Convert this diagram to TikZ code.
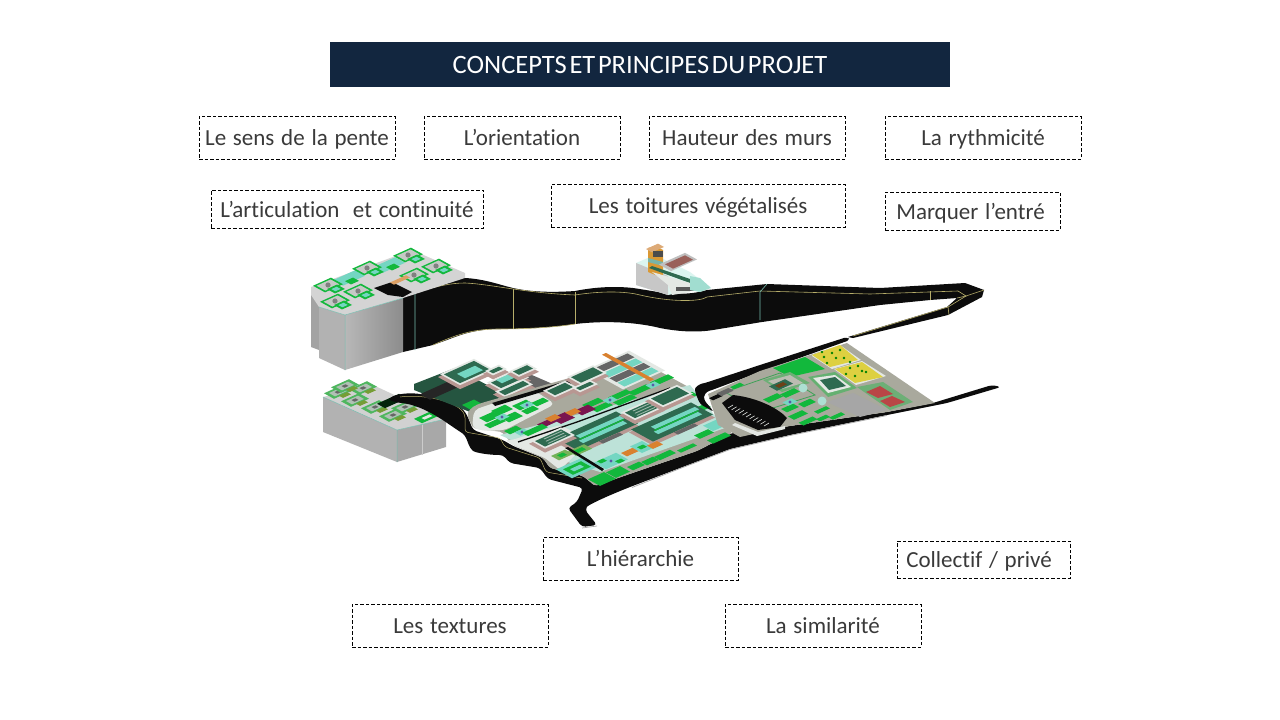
\documentclass[tikz,border=0pt]{standalone}
\usepackage{fontspec}
\setmainfont[WordSpace=1.3,Ligatures=NoCommon]{Carlito}
\newfontfamily\titlefont[WordSpace=0.45,Ligatures=NoCommon]{Carlito}
\definecolor{navy}{HTML}{12263F}
\definecolor{ink}{HTML}{3A3A3A}
\definecolor{rib}{HTML}{0C0C0C}
\definecolor{gra}{HTML}{12B83C}
\definecolor{dgr}{HTML}{2E6A50}
\definecolor{tea}{HTML}{74D6C2}
\definecolor{pnk}{HTML}{D8B2AC}
\definecolor{lgy}{HTML}{E4E8E4}
\definecolor{sgy}{HTML}{A9A99D}
\definecolor{mar}{HTML}{7A1550}
\definecolor{org}{HTML}{D9812F}
\definecolor{yel}{HTML}{DDD040}
\definecolor{lin}{HTML}{B7AE6A}
\tikzset{
  label box/.style={draw=black,dash pattern=on 3.5pt off 2pt,line width=.7pt,text=ink,inner sep=0pt,text height=18pt,text depth=2pt,font=\fontsize{23}{26}\selectfont},
  title box/.style={fill=navy,text=white,inner sep=0pt,minimum width=620pt,minimum height=45pt,text height=19pt,text depth=2pt,font=\titlefont\fontsize{26.5}{28}\selectfont},
  seam/.style={draw=lin,line width=.6pt},
  cyanseam/.style={draw=tea!70!gray,line width=.6pt}
}
\newcommand{\iso}[5]{\fill[#5] ({#1-(#3)-(#4)},{#2+.45*(#3)-.55*(#4)}) -- ({#1+(#3)-(#4)},{#2-.45*(#3)-.55*(#4)}) -- ({#1+(#3)+(#4)},{#2-.45*(#3)+.55*(#4)}) -- ({#1-(#3)+(#4)},{#2+.45*(#3)+.55*(#4)}) -- cycle;}
\newcommand{\bld}[4]{\iso{#1}{#2+3}{#3+1}{#4+1}{pnk!85!black}\iso{#1}{#2}{#3}{#4}{lgy}\iso{#1}{#2}{#3-2}{#4-2}{dgr}}
\newcommand{\pod}[2]{\iso{#1}{#2}{9}{6}{gra}\iso{#1}{#2}{7}{4.4}{lgy!70!gray}\fill[black!50] (#1,#2) circle (2.6);\iso{#1+8}{#2+4}{5}{4}{gra}\iso{#1+8}{#2+4}{2.6}{2}{tea}}
\newcommand{\pls}[2]{\iso{#1}{#2}{4.5}{3}{tea}\fill[gray!70!blue] (#1,#2) circle (1.6);}
\newcommand{\longb}[2]{\iso{#1}{#2+3}{31}{12}{pnk!85!black}\iso{#1}{#2}{30}{11}{dgr}\iso{#1+3}{#2-4}{22}{2.2}{tea}\iso{#1+6}{#2+1}{22}{2.2}{tea}\iso{#1+4.5}{#2-1.5}{22}{.7}{gra}\iso{#1+14}{#2+7}{10}{2}{black!60}}
\begin{document}
\begin{tikzpicture}[x=1pt,y=-1pt]
\useasboundingbox (0,0) rectangle (1280,720);
\fill[white] (0,0) rectangle (1280,720);
\node[title box] (title) at (640,64.5) {CONCEPTS ET PRINCIPES DU PROJET};
\node[label box,minimum width=196pt,minimum height=43pt] (a) at (297,137.5) {Le sens de la pente};
\node[label box,minimum width=196pt,minimum height=43pt] (b) at (522,137.5) {L’orientation};
\node[label box,minimum width=196pt,minimum height=43pt] (c) at (747,137.5) {Hauteur des murs};
\node[label box,minimum width=196pt,minimum height=43pt] (d) at (983,137.5) {La rythmicité};
\node[label box,minimum width=272pt,minimum height=38pt] (e) at (347,209) {L’articulation\ \ et continuité};
\node[label box,minimum width=294pt,minimum height=43pt] (f) at (698,205.5) {Les toitures végétalisés};
\node[label box,minimum width=175pt,minimum height=38pt] (g) at (972.5,211) {\hspace*{-4pt}Marquer l’entré};
\node[label box,minimum width=195pt,minimum height=43pt] (h) at (640.5,558.5) {L’hiérarchie};
\node[label box,minimum width=173pt,minimum height=37pt] (i) at (983.5,559.5) {\hspace*{-9pt}Collectif / privé};
\node[label box,minimum width=196pt,minimum height=43pt] (j) at (450,625.5) {Les textures};
\node[label box,minimum width=196pt,minimum height=43pt] (k) at (823,625.5) {La similarité};

%%% ribbon
\fill[rib] (403,297) .. controls (430,290) and (445,278) .. (465,278) .. controls (485,279) and (500,285) .. (513,288) .. controls (535,293) and (560,292) .. (575,291) .. controls (595,287) and (615,286) .. (633,288) .. controls (655,291) and (680,298) .. (707,290) -- (767,284) -- (880,288) -- (965,283) -- (984,290) -- (982,297) -- (948,315) -- (853,338) -- (848,337) -- (947,307) -- (957,298) -- (930,300) -- (880,305) -- (762,322) -- (713,330) .. controls (695,333) and (675,331) .. (660,328) .. controls (640,323) and (610,320) .. (575,324) .. controls (550,328) and (520,329) .. (500,329) .. controls (475,329) and (460,335) .. (447,340) -- (433,345) -- (403,352) -- cycle;
\draw[seam] (415,292) .. controls (440,286) and (450,283) .. (465,283) .. controls (490,284) and (525,293) .. (575,295) .. controls (600,291) and (625,291) .. (640,295) .. controls (670,302) and (700,302) .. (707,297) -- (760,291) -- (870,294) -- (958,291) -- (966,296) -- (957,298);
\draw[seam] (513,289) -- (513,329) (575,292) -- (575,324) (930,291) -- (930,300);
\draw[cyanseam] (415,292) -- (415,350) (767,284) -- (760,292) -- (760,320);
\draw[seam] (433,345) .. controls (460,333) and (475,329) .. (500,329) .. controls (520,329) and (550,328) .. (575,324);
\draw[seam] (966,296) -- (984,290) (966,296) -- (948,307) -- (853,336) (948,307) -- (949,315);
%%% upper block
\fill[black!36] (311,287) -- (319,293) -- (319,350) -- (311,347) -- cycle;
\fill[black!30] (319,307) -- (345,315) -- (345,370) -- (319,358) -- cycle;
\shade[left color=black!28,right color=black!45] (345,315) -- (403,298) -- (403,352) -- (345,370) -- cycle;
\fill[black!17] (311,287) -- (412,250) -- (465,273) -- (465,278) -- (403,298) -- (345,315) -- (319,307) -- (311,295) -- cycle;
\draw[tea!70!gray,line width=.5pt] (319,307) -- (345,315) -- (403,298) (345,315) -- (345,370);
\iso{349}{278}{11}{5}{tea}\iso{389}{265}{11}{5}{tea}\iso{352}{281}{4}{3}{gra}\iso{393}{267}{4}{3}{gra}
\pod{328}{285}\pod{367}{268}\pod{408}{255}\pod{436}{266}\pod{414}{275}\pod{358}{291}\pod{335}{301}
\fill[rib] (374,288) -- (392,282) -- (412,292) -- (403,297) -- (388,295) -- cycle;
\iso{400}{280}{8}{2}{org!70!lgy}
%%% top building
\fill[tea!25!white] (636,263) -- (655,255) -- (690,272) -- (710,287) -- (668,295) -- (636,285) -- cycle;
\fill[black!22] (636,263) -- (636,285) -- (668,295) -- (668,276) -- cycle;
\fill[org!70!yel] (648,248) -- (655,246) -- (663,250) -- (663,278) -- (648,272) -- cycle;
\iso{655}{248}{6}{3}{org!60!lgy}\fill[black!70] (653,251) rectangle (663,257);\fill[tea!60!gray] (648,258) -- (663,262) -- (663,266) -- (648,262) -- cycle;
\iso{678}{262}{13}{6}{black!25}\iso{679}{262}{10}{4}{org!50!mar!60!gray}
\fill[dgr] (649,268) -- (652,266) -- (690,279) -- (690,283) -- cycle;
\fill[lgy] (652,272) -- (690,283) -- (690,292) -- (672,295) -- (668,285) -- cycle;
\fill[black!65] (676,287) rectangle (696,291);
\fill[tea!60!lgy] (690,276) -- (700,278) -- (711,288) -- (700,292) -- (690,290) -- cycle;
%%% lower block
\fill[black!30] (323,397) -- (397,430) -- (397,462) -- (323,432) -- cycle;
\fill[black!34] (397,430) -- (446,419) -- (446,447) -- (397,462) -- cycle;
\draw[white!60!gray,line width=.6pt] (422,424) -- (422,455);
\fill[black!18] (323,397) -- (373,385) -- (446,419) -- (397,430) -- cycle;
\draw[tea!70!gray,line width=.5pt] (323,397) -- (397,430) -- (446,419) (397,430) -- (397,462);
\foreach \px/\py in {338/392,363/388,355/400,375/407,393/415,405/407,345/386}{\iso{\px}{\py}{9}{5}{gra!70!pnk}\iso{\px}{\py}{6}{3}{tea!40!pnk}\iso{\px}{\py}{2}{1.5}{black!60}\iso{\px+7}{\py+3}{4}{2}{org!50!gra}}
\iso{427}{417}{9}{4}{gra}\iso{427}{417}{4}{1.5}{lgy}
\iso{392}{401}{11}{4}{black!80!gra}
%%% left road, south road
\fill[rib,rounded corners=3.5pt] (388,400) .. controls (395,394) and (410,392) .. (425,395) .. controls (445,398) and (460,405) .. (467,415) -- (473,430) -- (503,440) -- (513,446) -- (543,458) -- (550,468) -- (583,476) -- (595,486) -- (647,468) -- (697,451) -- (732,433) -- (790,426) -- (887,412) -- (933,403) -- (992,385) -- (1001,387) -- (947,403) -- (887,415) -- (790,435) -- (730,449) -- (680,468) -- (630,487) .. controls (605,497) and (588,505) .. (585,510) -- (597,525) -- (582,527) -- (568,508) -- (577,502) -- (583,488) -- (548,479) -- (540,468) -- (510,463) -- (503,455) .. controls (490,455) and (475,453) .. (470,448) -- (465,435) -- (450,425) .. controls (440,418) and (420,405) .. (400,403) -- cycle;
\draw[lin,line width=.5pt,rounded corners=3pt] (400,397) .. controls (420,394) and (455,400) .. (465,415) -- (465,432) -- (500,438) -- (505,447) -- (540,458) -- (546,472) -- (582,478);
\draw[black!35,line width=.7pt] (582,528) -- (597,526) (632,487.5) -- (680,468.5) -- (730,449.5) -- (790,435.5) -- (887,415.5);
%%% NW complex
\fill[dgr!80!black] (414,384) -- (455,368) -- (510,397) -- (470,412) -- (414,390) -- cycle;
\iso{445}{388}{20}{5}{black!85}
\fill[black!60] (525,372) -- (555,385) -- (530,398) -- (500,385) -- cycle;
\bld{467}{372}{17}{10}\iso{470}{372}{9}{4}{tea}
\bld{508}{380}{14}{7}\iso{507}{378}{8}{3}{tea}
\bld{496}{370}{7}{4}
\bld{523}{370}{9}{5}
\bld{514}{388}{14}{5}
\iso{473}{405}{6}{5}{gra}
%%% main site
\fill[sgy,rounded corners=2pt] (467,415) .. controls (470,408) and (475,405) .. (485,402) -- (573,377) -- (628,354) -- (694,390) -- (712,415) -- (732,433) -- (697,451) -- (647,468) -- (595,486) -- (583,476) -- (550,468) -- (543,458) -- (513,445) -- (502,432) -- (473,428) -- cycle;
\fill[tea!35!lgy] (500,435) -- (690,385) -- (725,428) -- (600,472) -- (545,455) -- cycle;
\fill[lgy,rounded corners=5pt] (472,428) -- (474,410) -- (488,405) -- (535,391) -- (555,404) -- (505,430) -- (485,431) -- cycle;
\fill[lgy,rounded corners=3pt] (513,445) -- (505,440) -- (512,440) -- (560,425) -- (590,440) -- (560,470) -- (545,458) -- cycle;
\fill[rib] (573,379) -- (575,382) -- (495,406) -- (492,403) -- cycle;
\foreach \px/\py/\pa/\pb in {490/417/7/4,502/410/7/4,523/405/7/4,540/402/6/3,512/417/7/4,495/423/8/3,530/410/6/3,552/395/4/3,513/430/6/3}{\iso{\px}{\py}{\pa}{\pb}{gra}}
\pls{502}{417}\pls{527}{405}\pls{522}{432}
% striped block
\iso{626}{370}{21}{18}{lgy}
\iso{614}{363}{17}{3.5}{black!60}\iso{622}{368}{17}{3.5}{tea}\iso{630}{372.5}{17}{3.5}{black!60}\iso{638}{377}{17}{3.5}{tea}
\iso{628}{367}{2}{24}{org}
\bld{587}{375}{13}{7}
\bld{560}{389}{11}{6}
\bld{585}{386}{9}{4}
\foreach \px/\py/\pa/\pb in {620/395/9/3,593/403/8/3,602/407/8/3,640/390/9/3,625/400/9/3,662/380/9/3,687/397/8/3,702/408/6/3}{\iso{\px}{\py}{\pa}{\pb}{gra}}
\pls{610}{400}\pls{653}{385}
\iso{563}{418}{7}{5}{mar}\iso{585}{410}{7}{4}{mar}\iso{547}{423}{7}{3}{mar}\iso{553}{418}{5}{3}{org}\iso{573}{412}{5}{3}{org}
\draw[rib,line width=1.3pt] (518,442) -- (577,422) -- (670,388);
\iso{535}{430}{10}{3}{gra}
\longb{597}{431}\longb{672}{422}
\bld{642}{410}{14}{7}\foreach \t in {0,1,2}{\iso{642+\t*2}{407+\t*2.2}{9}{.5}{lgy!60!dgr}}
\bld{670}{396}{15}{8}
\bld{553}{438}{15}{7}\foreach \t in {0,1,2}{\iso{553+\t*2}{435+\t*2.2}{9}{.5}{lgy!60!dgr}}
\iso{630}{452}{6}{3}{org}\iso{642}{447}{6}{6}{tea}\iso{642}{447}{3}{2}{gra}\iso{655}{445}{5}{3}{org}
\iso{611}{461}{11}{6}{tea}\pls{611}{461}\iso{602}{461}{3}{2}{gra}\iso{620}{461}{3}{2}{gra}
\foreach \px/\py/\pa/\pb in {602/479/8/6,618/472/7/5,636/466/6/3,650/461/6/3,665/455/8/3,687/448/8/2,719/438/9/3,704/434/7/3}{\iso{\px}{\py}{\pa}{\pb}{gra}}
\iso{577}{468}{13}{8}{tea}\iso{577}{468}{9}{5}{gra}\iso{577}{468}{5}{2}{tea}
\iso{562}{455}{7}{4}{lin!60!gra}\iso{580}{450}{8}{4}{lin!60!gra}\iso{562}{455}{3}{2}{gra}\iso{580}{450}{4}{2}{gra}
\fill[rib] (565,448) -- (568,447) -- (604,469) -- (602,471) -- cycle;
\iso{720}{423}{12}{5}{tea}
%%% east site
\fill[rib,rounded corners=3pt] (695,392) .. controls (695,387) and (700,384) .. (705,383) -- (760,365) -- (847,337) -- (850,340) -- (760,372) -- (712,390) .. controls (706,392) and (704,395) .. (704,400) -- (714,412) -- (700,404) -- cycle;
\fill[sgy] (708,394) -- (760,371) -- (847,343) -- (935,403) -- (887,412) -- (790,426) -- (740,437) -- (718,425) -- cycle;
\draw[gra!60!gray,line width=.8pt] (725,392) -- (780,373) -- (815,395) -- (760,412) -- cycle;
\fill[rib] (722,403) -- (733,395) .. controls (760,398) and (780,410) .. (787,418) -- (780,427) -- (758,430) -- (735,420) -- cycle;
\foreach \t in {0,...,10}{\draw[lgy,line width=.6pt] ({728+\t*3.6},{408+\t*1.8}) -- ({733+\t*3.6},{405+\t*1.8});}
\fill[lgy] (735,423) -- (758,432) -- (785,426) -- (785,429) -- (757,436) -- (732,425) -- cycle;
\iso{716}{397}{5}{2}{rib}\iso{725}{392}{6}{2.5}{black!60}
\iso{737}{386}{5}{2}{gra}
\fill[gra] (773,368) -- (805,357) -- (825,369) -- (790,377) -- cycle;
\fill[lgy] (812,355) -- (840,345) -- (861,360) -- (832,369) -- (812,356) -- cycle;
\fill[yel] (812,355) -- (840,345) -- (858,360) -- (830,367) -- cycle;
\fill[lgy] (834,369) -- (862,361) -- (886,376) -- (856,385) -- cycle;
\fill[yel] (835,369) -- (862,362) -- (883,377) -- (855,383) -- cycle;
\foreach \px/\py in {824/357,832/353,840/350,836/358,827/363,844/358,850/362,822/352,850/368,858/366,862/371,855/376,866/372,846/374}{\fill[green!50!black] (\px,\py) circle (1.3);}
\fill[gra!40!sgy] (763,380) -- (790,372) -- (810,383) -- (782,392) -- cycle;
\fill[sgy!70!lgy] (768,381) -- (790,375) -- (803,383) -- (782,389) -- cycle;
\iso{781}{385}{8}{4}{dgr}\iso{781}{385}{4}{2}{org!50!black}
\fill[gra!45!sgy] (808,377) -- (835,372) -- (857,388) -- (828,397) -- cycle;
\fill[lgy] (813,378) -- (835,375) -- (851,387) -- (828,393) -- cycle;
\fill[dgr] (820,380) -- (835,377) -- (846,386) -- (829,390) -- cycle;
\fill[tea!50!lgy] (803,388) circle (4.5);\fill[tea!50!lgy] (822,401) circle (4.5);
\fill[black!35] (827,402) -- (853,393) -- (887,410) -- (860,417) -- cycle;
\fill[gra!40!sgy] (857,387) -- (883,382) -- (913,402) -- (890,410) -- cycle;
\fill[red!45!gray] (866,392) -- (880,386) -- (893,394) -- (878,398) -- cycle;
\fill[red!45!gray] (880,401) -- (892,396) -- (905,402) -- (890,407) -- cycle;
\foreach \px/\py/\pa/\pb in {773/398/7/3,790/393/7/3,807/403/6/3,790/408/6/3,798/415/7/3,808/421/7/2.5,823/418/5/2,837/416/6/2,822/410/6/2}{\iso{\px}{\py}{\pa}{\pb}{gra}}
\pls{790}{402}
\end{tikzpicture}
\end{document}
